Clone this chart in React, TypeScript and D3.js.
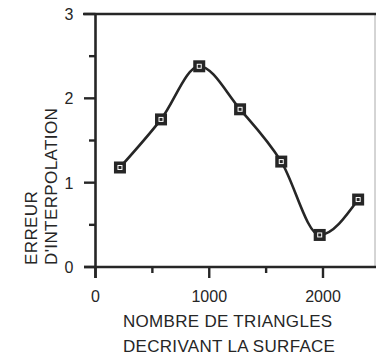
import React from "react";
import * as d3 from "d3";

const triangles = [215, 576, 912, 1271, 1633, 1971, 2309];
const errors = [1.18, 1.75, 2.38, 1.87, 1.25, 0.38, 0.8];
const yMajorTicks = [0, 1, 2, 3];
const yMinorTicks = [0.5, 1.5, 2.5];
const xMajorTicks = [0, 1000, 2000];
const xMinorTicks = [500, 1500];
const xLabelLines = ["NOMBRE DE TRIANGLES", "DECRIVANT LA SURFACE"];
const yLabelLines = ["ERREUR", "D'INTERPOLATION"];

const W = 376;
const H = 362;
const INK = "#262626";
const FONT = "'Liberation Sans', Arial, sans-serif";

export default function App() {
  const x = d3.scaleLinear().domain([0, 2000]).range([95.5, 323]);
  const y = d3.scaleLinear().domain([0, 3]).range([267, 14]);
  const data = triangles.map((t, i) => ({ t, e: errors[i] }));
  const line = d3
    .line<{ t: number; e: number }>()
    .x((d) => x(d.t))
    .y((d) => y(d.e))
    .curve(d3.curveMonotoneX);

  const x0 = x(0);
  const y0 = y(0);
  const yTop = y(3);

  return (
    <svg
      width={W}
      height={H}
      style={{ position: "absolute", left: 0, top: 0, background: "#fff" }}
      fontFamily={FONT}
    >
      <rect x={0} y={0} width={W} height={H} fill="#fff" />
      {/* right frame edge */}
      <line x1={375} x2={375} y1={yTop} y2={y0} stroke="#aaa" strokeWidth={1} />
      {/* top frame line */}
      <line x1={83} x2={W} y1={yTop} y2={yTop} stroke={INK} strokeWidth={2.6} />
      {/* x axis */}
      <line x1={84} x2={W} y1={y0} y2={y0} stroke={INK} strokeWidth={2.6} />
      {/* y axis */}
      <line x1={x0} x2={x0} y1={yTop - 1} y2={278} stroke={INK} strokeWidth={2.6} />

      {yMajorTicks.map((v) => (
        <g key={"ym" + v}>
          <line x1={84} x2={x0} y1={y(v)} y2={y(v)} stroke={INK} strokeWidth={2.4} />
          <text
            x={69}
            y={y(v) + 6}
            textAnchor="middle"
            fontSize={16}
            fill={INK}
          >
            {v}
          </text>
        </g>
      ))}
      {yMinorTicks.map((v) => (
        <line key={"yn" + v} x1={89} x2={x0} y1={y(v)} y2={y(v)} stroke={INK} strokeWidth={2.4} />
      ))}
      {xMajorTicks.map((v) => (
        <g key={"xm" + v}>
          <line x1={x(v)} x2={x(v)} y1={y0} y2={278} stroke={INK} strokeWidth={2.4} />
          <text x={x(v)} y={302} textAnchor="middle" fontSize={16} fill={INK}>
            {v}
          </text>
        </g>
      ))}
      {xMinorTicks.map((v) => (
        <line key={"xn" + v} x1={x(v)} x2={x(v)} y1={y0} y2={273} stroke={INK} strokeWidth={2.4} />
      ))}

      {xLabelLines.map((s, i) => (
        <text key={s} x={123} y={327 + i * 25} fontSize={17} letterSpacing={0.3} fill={INK}>
          {s}
        </text>
      ))}
      {yLabelLines.map((s, i) => (
        <text
          key={s}
          transform={`translate(${37 + i * 20},265) rotate(-90)`}
          fontSize={17}
          letterSpacing={0.4}
          fill={INK}
        >
          {s}
        </text>
      ))}

      <path d={line(data) || ""} fill="none" stroke={INK} strokeWidth={2.6} />

      {data.map((d, i) => (
        <g key={i} transform={`translate(${x(d.t)},${y(d.e)})`}>
          <rect x={-6} y={-6} width={12} height={12} fill={INK} />
          <rect x={-2.5} y={-2.5} width={5} height={5} fill="#fff" />
          <rect x={-1.5} y={-1.5} width={3} height={3} fill={INK} />
        </g>
      ))}
    </svg>
  );
}
